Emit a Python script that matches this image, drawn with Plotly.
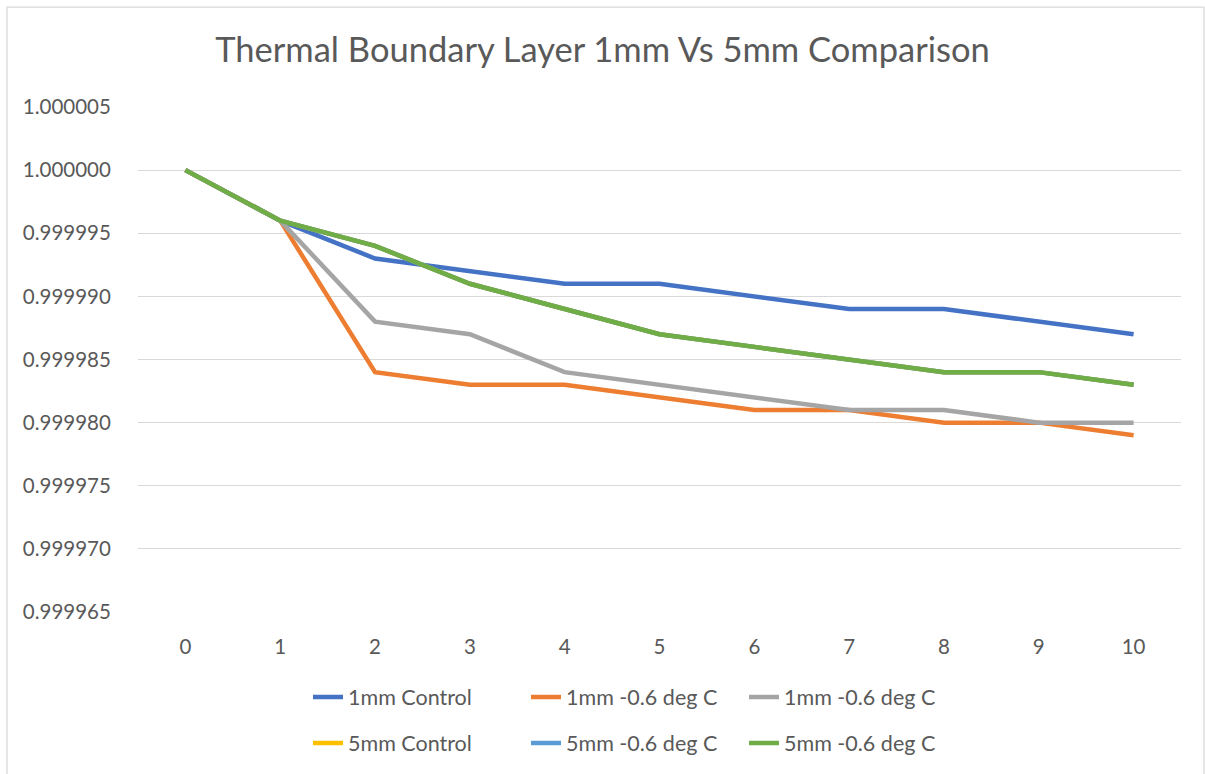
import plotly.graph_objects as go

x_vals = [0, 1, 2, 3, 4, 5, 6, 7, 8, 9, 10]
control_1mm = [1.000000, 0.999996, 0.999993, 0.999992, 0.999991, 0.999991, 0.999990, 0.999989, 0.999989, 0.999988, 0.999987]
cold_1mm_a = [1.000000, 0.999996, 0.999984, 0.999983, 0.999983, 0.999982, 0.999981, 0.999981, 0.999980, 0.999980, 0.999979]
cold_1mm_b = [1.000000, 0.999996, 0.999988, 0.999987, 0.999984, 0.999983, 0.999982, 0.999981, 0.999981, 0.999980, 0.999980]
control_5mm = [1.000000, 0.999996, 0.999994, 0.999991, 0.999989, 0.999987, 0.999986, 0.999985, 0.999984, 0.999984, 0.999983]
cold_5mm_a = [1.000000, 0.999996, 0.999994, 0.999991, 0.999989, 0.999987, 0.999986, 0.999985, 0.999984, 0.999984, 0.999983]
cold_5mm_b = [1.000000, 0.999996, 0.999994, 0.999991, 0.999989, 0.999987, 0.999986, 0.999985, 0.999984, 0.999984, 0.999983]

names = ["1mm Control", "1mm -0.6 deg C", "1mm -0.6 deg C",
         "5mm Control", "5mm -0.6 deg C", "5mm -0.6 deg C"]
colors = ["#4472C4", "#ED7D31", "#A5A5A5", "#FFC000", "#5B9BD5", "#70AD47"]
series = [control_1mm, cold_1mm_a, cold_1mm_b, control_5mm, cold_5mm_a, cold_5mm_b]
legends = ["legend", "legend", "legend", "legend2", "legend2", "legend2"]

FONT = "Lato"
TXT = "#595959"

fig = go.Figure()
for nm, col, ys, lg in zip(names, colors, series, legends):
    fig.add_trace(go.Scatter(x=x_vals, y=ys, name=nm, mode="lines",
                             line=dict(color=col, width=4.5), legend=lg))

W, H = 1205, 774
L, R, T, B = 138, 24, 107, 161
pw, ph = W - L - R, H - T - B

def px_x(p):
    return (p - L) / pw

def px_y(p):
    return (H - B - p) / ph

leg_common = dict(orientation="h", xanchor="left", yanchor="middle",
                  entrywidth=173, entrywidthmode="pixels",
                  font=dict(family=FONT, size=21.5, color=TXT),
                  bgcolor="rgba(0,0,0,0)", itemwidth=30)

fig.update_layout(
    width=W, height=H,
    margin=dict(l=L, r=R, t=T, b=B),
    paper_bgcolor="white", plot_bgcolor="white",
    title=dict(text="Thermal Boundary Layer 1mm Vs 5mm Comparison",
               x=0.5, xanchor="center", y=1 - 50 / H, yanchor="middle",
               font=dict(family=FONT, size=34.5, color=TXT)),
    legend=dict(x=px_x(308), y=px_y(697), **leg_common),
    legend2=dict(x=px_x(308), y=px_y(743), **leg_common),
    xaxis=dict(range=[-0.5, 10.5], tickmode="array", tickvals=x_vals,
               ticktext=[str(v) for v in x_vals], showgrid=False, zeroline=False,
               showline=False, ticks="outside", ticklen=16, tickcolor="rgba(0,0,0,0)",
               tickfont=dict(family=FONT, size=20.5, color=TXT)),
    yaxis=dict(range=[0.999965, 1.000005], dtick=0.000005, tick0=0.999965,
               tickformat=".6f", showgrid=True, gridcolor="#D9D9D9", gridwidth=1.3,
               zeroline=False, showline=False, ticks="outside", ticklen=22,
               tickcolor="rgba(0,0,0,0)",
               tickfont=dict(family=FONT, size=20.5, color=TXT)),
    shapes=[dict(type="rect", xref="paper", yref="paper",
                 x0=px_x(7), x1=px_x(1204), y0=px_y(7), y1=px_y(790),
                 line=dict(color="#D9D9D9", width=1.3), fillcolor="rgba(0,0,0,0)",
                 layer="below")],
)

fig.write_html("out.html")
